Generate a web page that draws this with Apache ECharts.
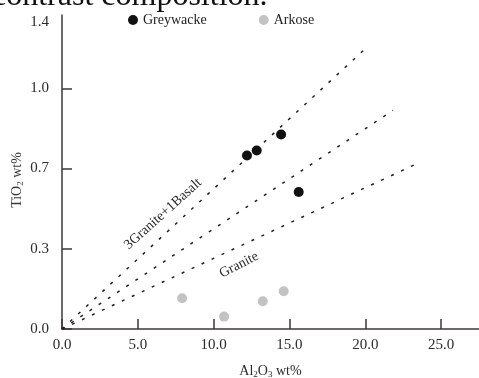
<!DOCTYPE html>
<html>
<head>
<meta charset="utf-8">
<script src="https://cdn.jsdelivr.net/npm/echarts@6/dist/echarts.min.js"></script>
<style>
  html, body { margin: 0; padding: 0; background: #fff; }
  #chart { width: 479px; height: 378px; }
</style>
</head>
<body>
<div id="chart"></div>
<script>
var SERIF = "'Liberation Serif', 'Times New Roman', serif"

// Al2O3 (x), TiO2 (y, in axis units)
var greywackeX = [12.2, 12.84, 14.45, 15.61]
var greywackeY = [0.757, 0.779, 0.849, 0.598]
var arkoseX = [7.92, 10.69, 13.24, 14.62]
var arkoseY = [0.134, 0.054, 0.121, 0.165]

// mixing lines from origin
var lineEndsX = [20.18, 21.83, 23.28]
var lineEndsY = [1.234, 0.954, 0.7175]

var xTicks = [0, 5, 10, 15, 20, 25]
var yTickVals = [0, 0.35, 0.7, 1.05]
var yLabelVals = [0, 0.35, 0.7, 1.05, 1.34]
var yTickLabels = ['0.0', '0.3', '0.7', '1.0', '1.4']

function pairs(xs, ys) {
  return xs.map(function (x, i) { return [x, ys[i]] })
}

var chart = echarts.init(document.getElementById('chart'))

var axisColor = '#3f3938'
var textColor = '#2a2a2a'

var lineSeries = lineEndsX.map(function (x, i) {
  return {
    type: 'line',
    data: [[0, 0], [x, lineEndsY[i]]],
    showSymbol: false,
    symbol: 'none',
    silent: true,
    lineStyle: { color: '#222', width: 1.5, type: [3, 8] },
    z: 1,
  }
})

var option = {
  animation: false,
  textStyle: { fontFamily: SERIF },
  grid: { left: 62, top: 15, right: 0, bottom: 49, outerBoundsMode: 'none', containLabel: false },
  legend: {
    data: ['Greywacke', 'Arkose'],
    left: 123,
    top: 8,
    icon: 'circle',
    itemWidth: 10,
    itemHeight: 10,
    itemGap: 52,
    textStyle: { fontFamily: SERIF, fontSize: 14, color: '#222' },
  },
  xAxis: {
    type: 'value',
    min: 0,
    max: 27.5,
    splitLine: { show: false },
    axisLine: { lineStyle: { color: axisColor, width: 1.5 } },
    axisTick: { inside: true, length: 10, customValues: xTicks, lineStyle: { color: axisColor, width: 1.5 } },
    axisLabel: {
      customValues: xTicks,
      margin: 9,
      fontFamily: SERIF,
      fontSize: 15,
      color: textColor,
      formatter: function (v) { return v.toFixed(1) },
    },
    name: '{n|Al}{s|2}{n|O}{s|3}{n| wt%}',
    nameLocation: 'middle',
    nameGap: 34,
    nameMoveOverlap: false,
    nameTextStyle: {
      rich: {
        n: { fontFamily: SERIF, fontSize: 14, color: textColor },
        s: { fontFamily: SERIF, fontSize: 9, color: textColor, padding: [7, 0, 0, 0] },
      },
    },
  },
  yAxis: {
    type: 'value',
    min: 0,
    max: 1.37,
    splitLine: { show: false },
    axisLine: { lineStyle: { color: axisColor, width: 1.5 } },
    axisTick: { inside: true, length: 10, customValues: yTickVals, lineStyle: { color: axisColor, width: 1.5 } },
    axisLabel: {
      customValues: yLabelVals,
      margin: 13,
      fontFamily: SERIF,
      fontSize: 15,
      color: textColor,
      formatter: function (v) {
        var k = yLabelVals.indexOf(v)
        return k >= 0 ? yTickLabels[k] : ''
      },
    },
    name: '{n|TiO}{s|2}{n| wt%}',
    nameLocation: 'middle',
    nameGap: 37,
    nameMoveOverlap: false,
    nameTextStyle: {
      padding: [0, 16, 0, 0],
      rich: {
        n: { fontFamily: SERIF, fontSize: 14, color: '#3a3a3a' },
        s: { fontFamily: SERIF, fontSize: 9, color: '#3a3a3a', padding: [7, 0, 0, 0] },
      },
    },
  },
  series: lineSeries.concat([
    {
      name: 'Greywacke',
      type: 'scatter',
      data: pairs(greywackeX, greywackeY),
      symbolSize: 10,
      itemStyle: { color: '#111', opacity: 1 },
      z: 3,
    },
    {
      name: 'Arkose',
      type: 'scatter',
      data: pairs(arkoseX, arkoseY),
      symbolSize: 10,
      itemStyle: { color: '#c3c3c3', opacity: 1 },
      z: 3,
    },
  ]),
  graphic: [
    {
      type: 'text',
      x: -8,
      y: -19,
      style: { text: 'contrast composition.', fontFamily: SERIF, fontSize: 32, fill: '#111' },
    },
    {
      type: 'text',
      x: 163,
      y: 214,
      rotation: 42 * Math.PI / 180,
      style: { text: '3Granite+1Basalt', fontFamily: SERIF, fontSize: 14, fill: textColor, align: 'center', verticalAlign: 'middle' },
    },
    {
      type: 'text',
      x: 239,
      y: 265,
      rotation: 27 * Math.PI / 180,
      style: { text: 'Granite', fontFamily: SERIF, fontSize: 14, fill: textColor, align: 'center', verticalAlign: 'middle' },
    },
  ],
}

chart.setOption(option)
</script>
</body>
</html>
